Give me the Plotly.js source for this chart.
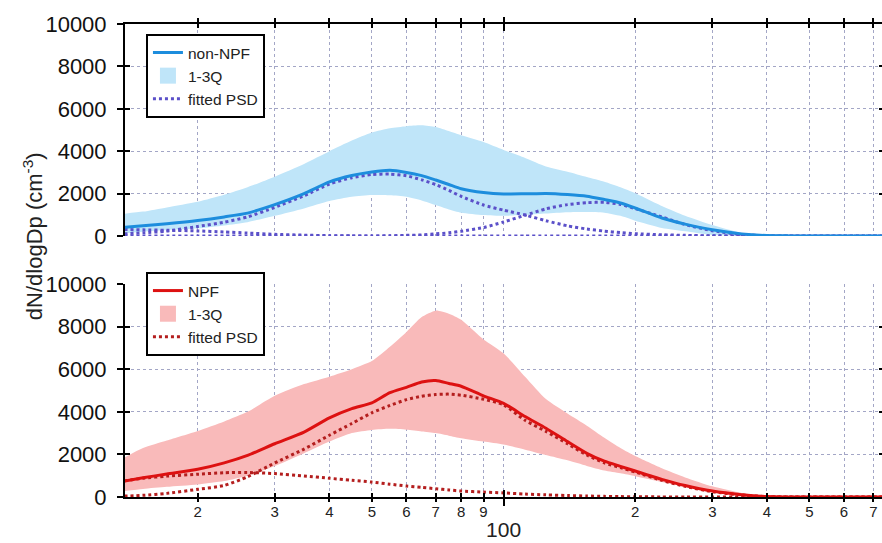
<!DOCTYPE html>
<html>
<head>
<meta charset="utf-8">
<script src="https://cdn.plot.ly/plotly-3.0.1.min.js"></script>
<style>
html,body{margin:0;padding:0;overflow:hidden;background:#fff;width:882px;height:543px;}
#chart{width:887px;height:543px;}
</style>
</head>
<body>
<div id="chart"></div>
<script>
// Particle diameter (nm)
const diam = [13.6, 15, 17, 20, 23, 26, 30, 35, 40, 45, 50, 55, 60, 65, 70, 75, 80, 90, 100, 112, 125, 140, 155, 170, 185, 200, 230, 260, 300, 350, 400, 450, 500, 600, 750];

// non-NPF days (top panel)
const nonMedian = [410, 480, 580, 730, 900, 1080, 1480, 2000, 2550, 2850, 3020, 3100, 3000, 2850, 2640, 2430, 2230, 2050, 1980, 1990, 2010, 1960, 1880, 1720, 1560, 1320, 850, 560, 290, 100, 20, 5, 0, 0, 0];
const nonQ3 = [1050, 1150, 1350, 1620, 1950, 2300, 2800, 3400, 4000, 4500, 4880, 5080, 5180, 5220, 5140, 4950, 4750, 4430, 4060, 3680, 3280, 3030, 2780, 2560, 2300, 2020, 1420, 960, 520, 150, 30, 5, 0, 0, 0];
const nonQ1 = [130, 200, 280, 360, 500, 650, 950, 1300, 1650, 1850, 1930, 1920, 1850, 1680, 1460, 1250, 1100, 990, 950, 1000, 1060, 1120, 1130, 1100, 950, 720, 380, 220, 50, 5, 0, 0, 0, 0, 0];
const nonFit1 = [310, 290, 270, 240, 190, 140, 80, 40, 15, 5, 0, 0, 0, 0, 0, 0, 0, 0, 0, 0, 0, 0, 0, 0, 0, 0, 0, 0, 0, 0, 0, 0, 0, 0, 0];
const nonFit2 = [100, 150, 230, 450, 650, 900, 1350, 1900, 2450, 2750, 2900, 2920, 2840, 2650, 2420, 2150, 1870, 1460, 1220, 990, 720, 480, 330, 230, 160, 110, 60, 30, 10, 0, 0, 0, 0, 0, 0];
const nonFit3 = [0, 0, 0, 0, 0, 0, 0, 0, 0, 0, 0, 10, 30, 50, 100, 150, 220, 400, 660, 980, 1280, 1480, 1570, 1590, 1490, 1290, 900, 540, 250, 70, 15, 0, 0, 0, 0];

// NPF days (bottom panel)
const npfMedian = [750, 900, 1080, 1300, 1600, 1950, 2500, 3050, 3715, 4150, 4420, 4900, 5150, 5400, 5470, 5330, 5200, 4750, 4400, 3780, 3230, 2600, 2050, 1680, 1440, 1220, 830, 540, 280, 110, 20, 5, 0, 0, 0];
const npfQ3 = [1850, 2300, 2650, 3100, 3550, 4000, 4750, 5300, 5650, 6000, 6380, 7050, 7750, 8450, 8750, 8600, 8320, 7400, 6750, 5650, 4600, 3920, 3350, 2780, 2300, 1920, 1350, 920, 500, 190, 40, 0, 0, 0, 0];
const npfQ1 = [280, 380, 480, 590, 750, 1000, 1450, 2050, 2600, 3000, 3150, 3200, 3160, 3080, 3000, 2880, 2760, 2600, 2460, 2220, 1970, 1720, 1460, 1240, 1110, 980, 710, 470, 220, 80, 10, 0, 0, 0, 0];
const npfFit1 = [760, 880, 980, 1070, 1140, 1150, 1100, 990, 880, 790, 700, 600, 515, 450, 390, 330, 280, 230, 190, 140, 100, 70, 45, 30, 20, 10, 5, 0, 0, 0, 0, 0, 0, 0, 0];
const npfFit2 = [40, 80, 170, 360, 540, 950, 1600, 2250, 2900, 3450, 3950, 4300, 4570, 4730, 4810, 4830, 4780, 4590, 4330, 3600, 3080, 2500, 1970, 1600, 1380, 1170, 780, 500, 250, 95, 20, 0, 0, 0, 0];

// Ticks
const xTickVals = [20, 30, 40, 50, 60, 70, 80, 90, 100, 200, 300, 400, 500, 600, 700];
const xTickText = ['2', '3', '4', '5', '6', '7', '8', '9', '', '2', '3', '4', '5', '6', '7'];
const xMajor = [100];
const xMajorText = ['100'];
const yTickVals = [0, 2000, 4000, 6000, 8000, 10000];
const yTickText = ['0', '2000', '4000', '6000', '8000', '10000'];
const yGridVals = [2000, 4000, 6000, 8000];

const FONT = 'Liberation Sans, Arial, Helvetica, sans-serif';
const C = {
  blue: '#1d8ddd', blueFill: '#bfe5f9', purple: '#5b50c9',
  red: '#dd1111', redFill: '#f9baba', darkRed: '#b41e1e',
  grid: '#a3a6c6'
};
const xRange = [1.1349, 2.8695];
const SP = {shape: 'spline', smoothing: 0.6};

function band(lower, upper, color, xa, ya) {
  return [
    {x: diam, y: lower, xaxis: xa, yaxis: ya, mode: 'lines', line: Object.assign({width: 0}, SP), showlegend: false, hoverinfo: 'skip'},
    {x: diam, y: upper, xaxis: xa, yaxis: ya, mode: 'lines', fill: 'tonexty', fillcolor: color, line: Object.assign({width: 0}, SP), showlegend: false, hoverinfo: 'skip'}
  ];
}
function dotted(y, color, xa, ya, legend, show) {
  return {x: diam, y: y, xaxis: xa, yaxis: ya, mode: 'lines', name: 'fitted PSD', legend: legend, legendrank: 3,
    showlegend: show, line: Object.assign({color: color, width: 3, dash: 'dot'}, SP)};
}
function solid(y, color, name, xa, ya, legend) {
  return {x: diam, y: y, xaxis: xa, yaxis: ya, mode: 'lines', name: name, legend: legend, legendrank: 1,
    line: Object.assign({color: color, width: 3}, SP)};
}
function swatch(color, xa, ya, legend) {
  return {x: [null], y: [null], xaxis: xa, yaxis: ya, mode: 'markers', name: '1-3Q', legend: legend, legendrank: 2,
    marker: {symbol: 'square', size: 16, color: color}};
}
// empty traces so that the overlay axes (extra tick sets / grids) get drawn
function carrier(xa, ya) {
  return {x: [null], y: [null], xaxis: xa, yaxis: ya, mode: 'lines', showlegend: false, hoverinfo: 'skip'};
}

const traces = [
  ...band(nonQ1, nonQ3, C.blueFill, 'x2', 'y2'),
  swatch(C.blueFill, 'x2', 'y2', 'legend'),
  dotted(nonFit1, C.purple, 'x2', 'y2', 'legend', true),
  dotted(nonFit2, C.purple, 'x2', 'y2', 'legend', false),
  dotted(nonFit3, C.purple, 'x2', 'y2', 'legend', false),
  solid(nonMedian, C.blue, 'non-NPF', 'x2', 'y2', 'legend'),

  ...band(npfQ1, npfQ3, C.redFill, 'x', 'y'),
  swatch(C.redFill, 'x', 'y', 'legend2'),
  dotted(npfFit1, C.darkRed, 'x', 'y', 'legend2', true),
  dotted(npfFit2, C.darkRed, 'x', 'y', 'legend2', false),
  solid(npfMedian, C.red, 'NPF', 'x', 'y', 'legend2'),

  carrier('x3', 'y'), carrier('x5', 'y'), carrier('x7', 'y'),
  carrier('x4', 'y2'), carrier('x6', 'y2'), carrier('x8', 'y2'),
  carrier('x', 'y3'), carrier('x', 'y5'),
  carrier('x2', 'y4'), carrier('x2', 'y6')
];

const botDomain = [0, 0.4503];
const topDomain = [0.5518, 1];

function xMain(anchor, side, labels, ticks) {
  return {type: 'log', range: xRange, anchor: anchor, side: side,
    tickvals: xTickVals, ticktext: xTickText, showticklabels: labels,
    ticks: ticks, ticklen: 4, tickwidth: 2, tickcolor: '#000',
    showline: true, linewidth: 2, linecolor: '#000',
    showgrid: true, gridcolor: C.grid, gridwidth: 1, griddash: 'dot', zeroline: false,
    tickfont: {family: FONT, size: 15, color: '#222'}, ticklabelstandoff: 0, fixedrange: true};
}
function xOver(over, anchor, side, vals, ticks, len, text) {
  return {type: 'log', range: xRange, overlaying: over, anchor: anchor, side: side,
    tickvals: vals, ticktext: text || vals.map(() => ''), showticklabels: !!text,
    ticks: ticks, ticklen: len, tickwidth: 2, tickcolor: '#000',
    showline: false, showgrid: false, zeroline: false,
    tickfont: {family: FONT, size: 21, color: '#222'}, ticklabelstandoff: 6, fixedrange: true};
}
function yMain(domain, anchor) {
  return {domain: domain, range: [0, 10000], anchor: anchor, tickvals: yTickVals, ticktext: yTickText,
    ticks: 'outside', ticklen: 6, tickwidth: 2, tickcolor: '#000', mirror: 'ticks',
    showline: true, linewidth: 2, linecolor: '#000',
    showgrid: false, zeroline: false,
    tickfont: {family: FONT, size: 22, color: '#111'}, ticklabelstandoff: 6, fixedrange: true};
}
function yTicksIn(over, domain, anchor) {
  return {domain: domain, range: [0, 10000], overlaying: over, anchor: anchor, tickvals: yTickVals,
    ticks: 'inside', ticklen: 5, tickwidth: 2, tickcolor: '#000', mirror: 'ticks',
    showline: false, showgrid: false, zeroline: false, showticklabels: false, fixedrange: true};
}
function yGrid(over, domain, anchor) {
  return {domain: domain, range: [0, 10000], overlaying: over, anchor: anchor, tickvals: yGridVals,
    ticks: '', showline: false, showticklabels: false, zeroline: false,
    showgrid: true, gridcolor: C.grid, gridwidth: 1, griddash: 'dot', fixedrange: true};
}

const legendBase = {xanchor: 'left', yanchor: 'top', bgcolor: '#fff', bordercolor: '#000', borderwidth: 2,
  font: {family: FONT, size: 15.5, color: '#222'}, tracegroupgap: 0, itemwidth: 30, traceorder: 'normal'};

const layout = {
  width: 887, height: 543,
  margin: {l: 125, r: 3, t: 24, b: 46},
  paper_bgcolor: '#fff', plot_bgcolor: 'rgba(0,0,0,0)',
  font: {family: FONT, color: '#222'},
  showlegend: true,
  xaxis: xMain('y', 'bottom', true, 'inside'),
  xaxis3: xOver('x', 'y', 'bottom', xTickVals, 'outside', 4),
  xaxis5: xOver('x', 'y', 'bottom', xMajor, 'outside', 8, xMajorText),
  xaxis7: xOver('x', 'y', 'bottom', xMajor, 'inside', 7),
  xaxis2: xMain('y2', 'top', false, 'outside'),
  xaxis4: xOver('x2', 'y2', 'top', xTickVals, 'inside', 4),
  xaxis6: xOver('x2', 'y2', 'top', xMajor, 'outside', 6),
  xaxis8: xOver('x2', 'y2', 'top', xMajor, 'inside', 7),
  yaxis: yMain(botDomain, 'x'),
  yaxis3: yTicksIn('y', botDomain, 'x'),
  yaxis5: yGrid('y', botDomain, 'x'),
  yaxis2: yMain(topDomain, 'x2'),
  yaxis4: yTicksIn('y2', topDomain, 'x2'),
  yaxis6: yGrid('y2', topDomain, 'x2'),
  legend: Object.assign({}, legendBase, {x: 0.0276, y: 0.979}),
  legend2: Object.assign({}, legendBase, {x: 0.0276, y: 0.4757}),
  annotations: [
    {text: 'dN/dlogDp (cm<sup>-3</sup>)', xref: 'paper', yref: 'paper', x: -0.121, y: 0.5518,
     xanchor: 'center', yanchor: 'middle', textangle: -90, showarrow: false,
     font: {family: FONT, size: 22, color: '#222'}}
  ]
};

Plotly.newPlot('chart', traces, layout, {staticPlot: true, displayModeBar: false});
</script>
</body>
</html>
